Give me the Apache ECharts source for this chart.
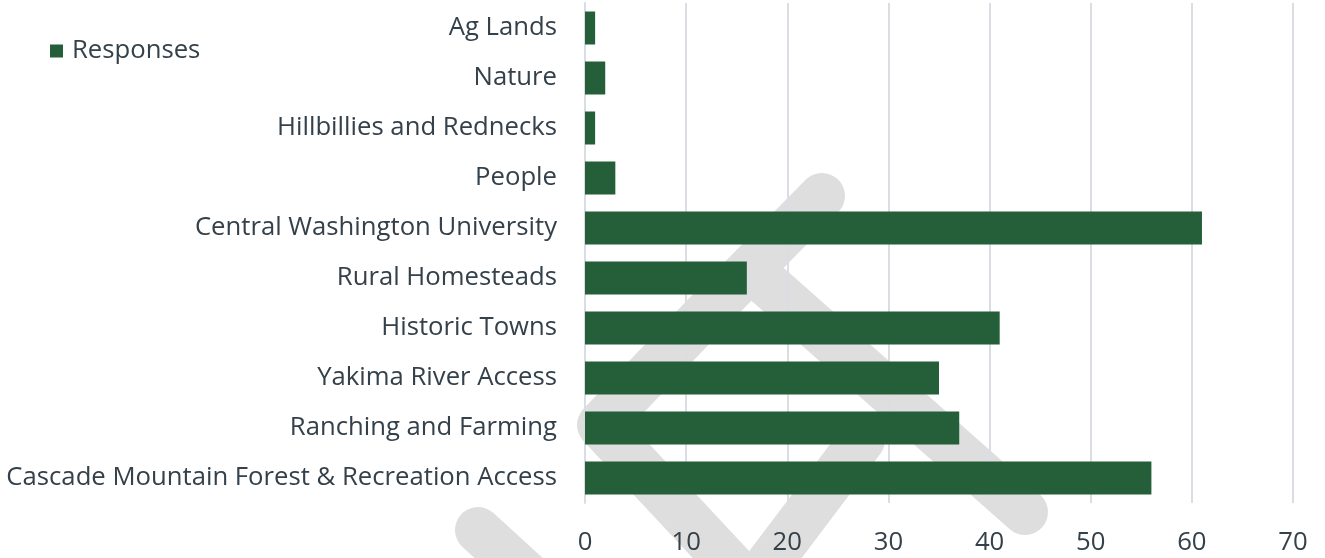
<!DOCTYPE html>
<html>
<head>
<meta charset="utf-8">
<script src="https://cdn.jsdelivr.net/npm/echarts@6/dist/echarts.min.js"></script>
<style>
  html, body { margin: 0; padding: 0; background: #fff; }
  #main { width: 1325px; height: 558px; }
</style>
</head>
<body>
<div id="main"></div>
<script>
// categories listed top to bottom
const categories = [
  'Ag Lands',
  'Nature',
  'Hillbillies and Rednecks',
  'People',
  'Central Washington University',
  'Rural Homesteads',
  'Historic Towns',
  'Yakima River Access',
  'Ranching and Farming',
  'Cascade Mountain Forest & Recreation Access'
];
const responses = [1, 2, 1, 3, 61, 16, 41, 35, 37, 56];
const xTicks = [0, 10, 20, 30, 40, 50, 60, 70];

const textColor = '#34404a';
const gridColor = '#dadee3';
const barColor = '#245f39';
const font = 'Open Sans';
const fs = 25.7;

// faint background watermark strokes
const wmStyle = { stroke: '#dedede', lineWidth: 46, lineCap: 'round', lineJoin: 'round', fill: null };
const watermark = [
  [[822, 196], [705, 315], [600, 425], [740, 575]],
  [[757, 275], [1025, 512]],
  [[760, 575], [862, 440]],
  [[478, 530], [560, 605]]
].map(pts => ({ type: 'polyline', z: -10, silent: true, shape: { points: pts }, style: wmStyle }));

const chart = echarts.init(document.getElementById('main'));
chart.setOption({
  animation: false,
  backgroundColor: '#fff',
  textStyle: { fontFamily: font },
  graphic: watermark,
  legend: {
    left: 45,
    top: 33,
    itemWidth: 13,
    itemHeight: 13,
    icon: 'rect',
    textStyle: { color: textColor, fontSize: fs, fontFamily: font, padding: [0, 0, 0, 4] },
    data: ['Responses']
  },
  grid: { left: 585, right: 32, top: 3, bottom: 55, containLabel: false },
  xAxis: {
    type: 'value',
    min: 0,
    max: 70,
    interval: 10,
    axisLine: { show: false },
    axisTick: { show: false },
    axisLabel: {
      color: textColor, fontSize: fs, fontFamily: font, margin: 27,
      formatter: v => xTicks.includes(v) ? String(v) : ''
    },
    splitLine: { show: true, lineStyle: { color: gridColor, width: 2 } }
  },
  yAxis: {
    type: 'category',
    inverse: true,
    data: categories,
    axisLine: { show: true, lineStyle: { color: gridColor, width: 2 } },
    axisTick: { show: false },
    axisLabel: { color: textColor, fontSize: fs, fontFamily: font, margin: 28, padding: [4, 0, 0, 0] }
  },
  series: [{
    name: 'Responses',
    type: 'bar',
    data: responses,
    barCategoryGap: '34%',
    itemStyle: { color: barColor }
  }]
});
</script>
</body>
</html>
